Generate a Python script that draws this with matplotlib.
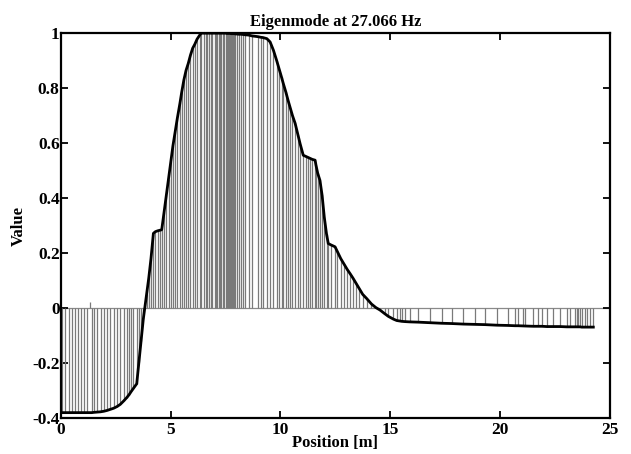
import numpy as np
import matplotlib
matplotlib.use("Agg")
from matplotlib import pyplot as plt

# node positions [m] and mode values
pos = [0.05, 0.2, 0.35, 0.5, 0.62, 0.78, 0.9, 1.05, 1.2, 1.4,
       1.5, 1.65, 1.8, 1.95, 2.1, 2.25, 2.4, 2.55, 2.7, 2.85,
       3.0, 3.1, 3.2, 3.3, 3.45, 3.55, 3.65, 3.75,
       3.9, 4.0, 4.1, 4.21, 4.3, 4.4, 4.5, 4.59, 4.7, 4.8, 4.9, 5.0,
       5.1, 5.2, 5.3, 5.42, 5.5, 5.6, 5.7, 5.8, 5.9, 6.0,
       6.1, 6.2, 6.34, 6.4, 6.5, 6.6, 6.65, 6.75, 6.85, 6.9,
       7.0, 7.05, 7.1, 7.2, 7.25, 7.3, 7.4, 7.45, 7.5, 7.55,
       7.6, 7.65, 7.7, 7.75, 7.8, 7.85, 7.9, 7.95, 8.0, 8.1,
       8.2, 8.3, 8.4, 8.55, 8.7, 8.99, 9.1, 9.2, 9.38, 9.53,
       9.68, 9.83, 9.95, 10.05, 10.13, 10.25, 10.35, 10.45, 10.55, 10.67,
       10.8, 10.9, 11.04, 11.15, 11.25, 11.35, 11.45, 11.58, 11.62, 11.7,
       11.8, 11.9, 12.0, 12.1, 12.18, 12.3, 12.49, 12.6, 12.75, 12.9,
       13.05, 13.17, 13.3, 13.45, 13.6, 13.75, 13.93, 14.15, 14.35, 14.54,
       14.75, 14.92, 15.15, 15.3, 15.45, 15.53, 15.68, 15.9, 16.29, 16.82,
       17.35, 17.8, 18.34, 18.87, 19.33, 19.86, 20.39, 20.69, 20.84, 21.07,
       21.15, 21.53, 21.76, 21.91, 22.14, 22.44, 22.74, 23.05, 23.2, 23.43,
       23.5, 23.58, 23.66, 23.73, 23.88, 23.96, 24.11, 24.26]
val = [-0.38, -0.38, -0.38, -0.38, -0.38, -0.38, -0.38, -0.38, -0.38, -0.38,
       -0.379, -0.378, -0.377, -0.375, -0.372, -0.368, -0.364, -0.358, -0.35, -0.338,
       -0.325, -0.315, -0.303, -0.292, -0.275, -0.196, -0.118, -0.04,
       0.05, 0.11, 0.18, 0.272, 0.278, 0.281, 0.283, 0.285, 0.35, 0.41, 0.47, 0.53,
       0.59, 0.64, 0.69, 0.745, 0.785, 0.83, 0.865, 0.89, 0.92, 0.945,
       0.96, 0.978, 0.995, 1.0, 1.0, 1.0, 1.0, 1.0, 1.0, 1.0,
       1.0, 1.0, 1.0, 1.0, 1.0, 1.0, 1.0, 1.0, 1.0, 0.999,
       0.999, 0.999, 0.999, 0.998, 0.998, 0.998, 0.998, 0.997, 0.997, 0.996,
       0.996, 0.995, 0.994, 0.993, 0.99, 0.987, 0.985, 0.984, 0.98, 0.968,
       0.938, 0.9, 0.868, 0.84, 0.817, 0.785, 0.755, 0.728, 0.70, 0.672,
       0.63, 0.597, 0.556, 0.552, 0.548, 0.545, 0.541, 0.538, 0.52, 0.49,
       0.465, 0.41, 0.33, 0.27, 0.235, 0.23, 0.223, 0.205, 0.18, 0.16,
       0.14, 0.126, 0.11, 0.09, 0.07, 0.05, 0.035, 0.015, 0.002, -0.007,
       -0.02, -0.03, -0.04, -0.045, -0.047, -0.048, -0.049, -0.05, -0.051, -0.053,
       -0.055, -0.056, -0.058, -0.059, -0.06, -0.062, -0.063, -0.064, -0.064, -0.065,
       -0.065, -0.066, -0.066, -0.066, -0.067, -0.067, -0.067, -0.068, -0.068, -0.068,
       -0.068, -0.068, -0.068, -0.069, -0.069, -0.069, -0.069, -0.069]

# lone stem sticking up near the left end
extra_pos = [1.32]
extra_val = [0.023]

xticks = [0, 5, 10, 15, 20, 25]
yticks = [-0.4, -0.2, 0, 0.2, 0.4, 0.6, 0.8, 1]
ytick_labels = ["-0.4", "-0.2", "0", "0.2", "0.4", "0.6", "0.8", "1"]

plt.rcParams['font.family'] = ['Liberation Serif', 'DejaVu Serif']
plt.rcParams['font.weight'] = 'bold'

fig = plt.figure(figsize=(6.31, 4.54), dpi=100)
ax = fig.add_axes([0.0967, 0.079, 0.966 - 0.0967, 0.927 - 0.079])

ax.axhline(0, color='#8a8a8a', lw=0.9, zorder=1)
ax.vlines(pos, 0, val, color='#7a7a7a', lw=0.9, zorder=2)
ax.vlines(extra_pos, 0, extra_val, color='#7a7a7a', lw=0.9, zorder=2)
ax.plot(pos, val, color='black', lw=2.0, zorder=3)

ax.set_xlim(0, 25)
ax.set_ylim(-0.4, 1)
ax.set_xticks(xticks)
ax.set_xticklabels([str(t) for t in xticks])
ax.set_yticks(yticks)
ax.set_yticklabels(ytick_labels)
ax.tick_params(direction='in', length=5, width=1.3, top=True, right=True,
               labelsize=12.5)
ax.tick_params(axis='y', pad=1)
ax.tick_params(axis='x', pad=2.5)
for s in ax.spines.values():
    s.set_linewidth(1.6)

ax.set_title("Eigenmode at 27.066 Hz", fontsize=12, fontweight='bold', pad=5)
ax.set_xlabel("Position [m]", fontsize=12, fontweight='bold', labelpad=-2)
ax.set_ylabel("Value", fontsize=12, fontweight='bold', labelpad=4)

fig.savefig("out.png", dpi=100)
